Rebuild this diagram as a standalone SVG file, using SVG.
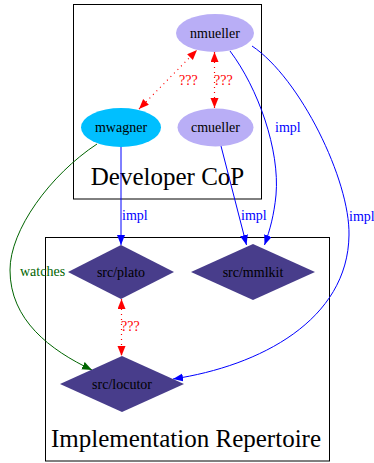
<svg xmlns="http://www.w3.org/2000/svg" width="374" height="463" viewBox="0 0 374 463">
  <style>
    text { font-family: "Liberation Serif", "Times New Roman", serif; }
    .cluster { fill: none; stroke: #000; stroke-width: 1; }
    .ctitle { font-size: 25px; text-anchor: middle; fill: #000; }
    .nlabel { font-size: 14px; text-anchor: middle; fill: #000; }
    .dev { fill: #b9aef6; }
    .lead { fill: #00bfff; }
    .repo { fill: #483d8b; }
    .impl { fill: none; stroke: #0000ff; stroke-width: 1; }
    .watch { fill: none; stroke: #006400; stroke-width: 1; }
    .unk { fill: none; stroke: #ff0000; stroke-width: 1.2; stroke-dasharray: 1 4; }
    .elabel { font-size: 14px; }
  </style>
  <defs>
    <marker id="ah-blue" markerUnits="userSpaceOnUse" markerWidth="12" markerHeight="10" refX="10" refY="4" orient="auto">
      <path d="M0,0 L10,4 L0,8 Z" fill="#0000ff"/>
    </marker>
    <marker id="ah-green" markerUnits="userSpaceOnUse" markerWidth="12" markerHeight="10" refX="10" refY="4" orient="auto">
      <path d="M0,0 L10,4 L0,8 Z" fill="#006400"/>
    </marker>
    <marker id="ah-red" markerUnits="userSpaceOnUse" markerWidth="12" markerHeight="10" refX="10" refY="4" orient="auto-start-reverse">
      <path d="M0,0 L10,4 L0,8 Z" fill="#ff0000"/>
    </marker>
  </defs>

  <rect width="374" height="463" fill="#ffffff"/>

  <!-- clusters -->
  <g id="cluster-developer-cop">
    <rect class="cluster" x="73.5" y="4.5" width="188" height="194.5"/>
    <text class="ctitle" x="167.5" y="185">Developer CoP</text>
  </g>
  <g id="cluster-implementation-repertoire">
    <rect class="cluster" x="45.5" y="237.5" width="284" height="223.5"/>
    <text class="ctitle" x="186" y="447">Implementation Repertoire</text>
  </g>

  <!-- connectors -->
  <g id="edges">
    <path class="unk" d="M139,109 L197,50" marker-start="url(#ah-red)" marker-end="url(#ah-red)"/>
    <text class="elabel" x="179" y="85" fill="#ff0000">???</text>

    <path class="unk" d="M214.5,108 L214.5,52" marker-start="url(#ah-red)" marker-end="url(#ah-red)"/>
    <text class="elabel" x="214" y="85" fill="#ff0000">???</text>

    <path class="impl" d="M121,147 L121,245" marker-end="url(#ah-blue)"/>
    <text class="elabel" x="122" y="220" fill="#0000ff">impl</text>

    <path class="impl" d="M221,146 L246.5,245" marker-end="url(#ah-blue)"/>
    <text class="elabel" x="241" y="220" fill="#0000ff">impl</text>

    <path class="impl" d="M230,51 C258,88 280,150 276,195 C274,215 270,230 264.5,245" marker-end="url(#ah-blue)"/>
    <text class="elabel" x="275" y="132" fill="#0000ff">impl</text>

    <path class="impl" d="M252,46 C300,78 350,180 349,235 C348,320 260,366 173,379" marker-end="url(#ah-blue)"/>
    <text class="elabel" x="349" y="221" fill="#0000ff">impl</text>

    <path class="watch" d="M97,144 C50,175 10,230 10,270 C10,320 50,350 92,370" marker-end="url(#ah-green)"/>
    <text class="elabel" x="20" y="276" fill="#006400">watches</text>

    <path class="unk" d="M121.5,299 L121.5,356" marker-start="url(#ah-red)" marker-end="url(#ah-red)"/>
    <text class="elabel" x="121" y="331" fill="#ff0000">???</text>
  </g>

  <!-- nodes -->
  <g id="node-nmueller">
    <ellipse class="dev" cx="215" cy="33" rx="39" ry="19"/>
    <text class="nlabel" x="215" y="37.5">nmueller</text>
  </g>
  <g id="node-mwagner">
    <ellipse class="lead" cx="121" cy="127.5" rx="40" ry="19.5"/>
    <text class="nlabel" x="121" y="132">mwagner</text>
  </g>
  <g id="node-cmueller">
    <ellipse class="dev" cx="215.5" cy="127.5" rx="38" ry="19"/>
    <text class="nlabel" x="215.5" y="132">cmueller</text>
  </g>
  <g id="node-src-plato">
    <polygon class="repo" points="121,245 174,272 121,299 68,272"/>
    <text class="nlabel" x="121" y="276.5">src/plato</text>
  </g>
  <g id="node-src-mmlkit">
    <polygon class="repo" points="253,244 315,272 253,300 191,272"/>
    <text class="nlabel" x="253" y="276.5">src/mmlkit</text>
  </g>
  <g id="node-src-locutor">
    <polygon class="repo" points="122,356 184,384 122,412 60,384"/>
    <text class="nlabel" x="122" y="388.5">src/locutor</text>
  </g>
</svg>
